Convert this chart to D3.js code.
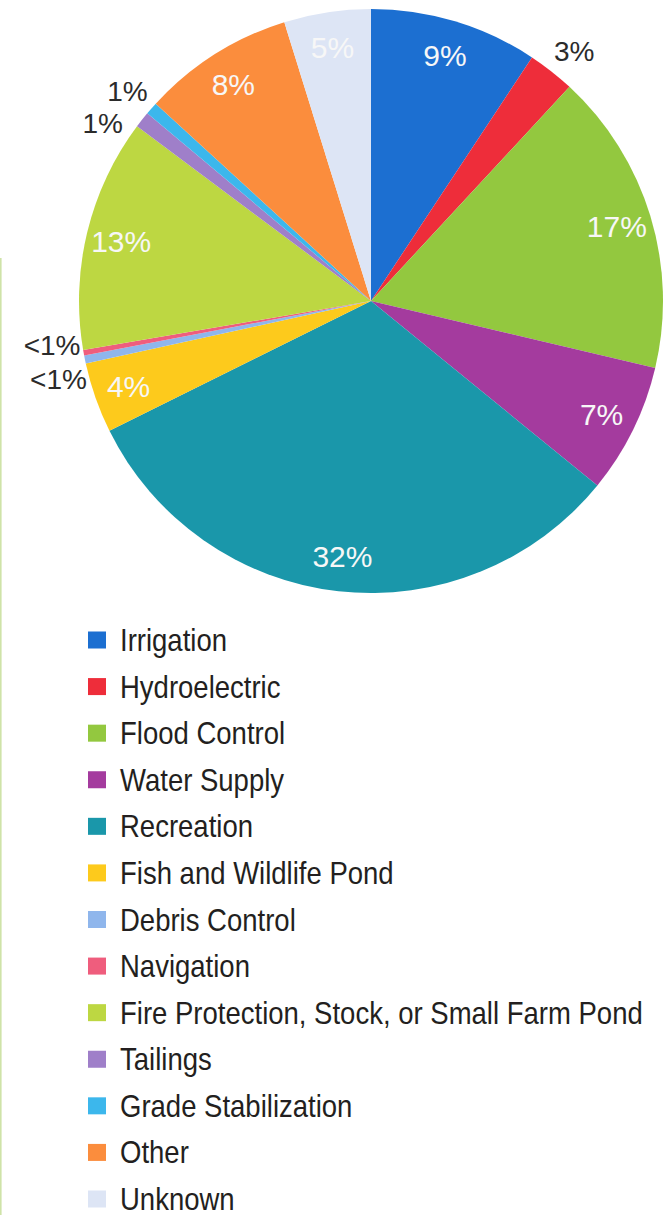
<!DOCTYPE html>
<html>
<head>
<meta charset="utf-8">
<script src="https://cdn.jsdelivr.net/npm/d3@7"></script>
<style>
  html, body { margin: 0; padding: 0; background: #ffffff; }
  svg { display: block; }
</style>
</head>
<body>
<svg id="chart" width="664" height="1215"></svg>
<script>
// ---------------- DATA ----------------
const categories = [
  "Irrigation", "Hydroelectric", "Flood Control", "Water Supply", "Recreation",
  "Fish and Wildlife Pond", "Debris Control", "Navigation",
  "Fire Protection, Stock, or Small Farm Pond", "Tailings",
  "Grade Stabilization", "Other", "Unknown"
];
const values = [9.3, 2.6, 16.8, 7.2, 31.8, 3.9, 0.45, 0.3, 12.9, 0.9, 0.7, 8.4, 4.8];
const sliceLabels = ["9%", "3%", "17%", "7%", "32%", "4%", "<1%", "<1%", "13%", "1%", "1%", "8%", "5%"];
// whether the label is drawn inside the slice (white) or outside (dark)
const labelInside = [true, false, true, true, true, true, false, false, true, false, false, true, true];

// ---------------- STYLE / LAYOUT ----------------
const colors = [
  "#1c6fd1", "#ee2d3a", "#93c83f", "#a43b9e", "#1a97aa",
  "#fdca1c", "#8fb6ec", "#ef5d7d", "#bdd742", "#9f7fc9",
  "#3cb7ec", "#fb8d3d", "#dde5f5"
];
// small angular nudges (degrees) for outside labels to avoid overlap
const outerNudgeDeg = { "Hydroelectric": 1.0, "Tailings": -4.8, "Grade Stabilization": -0.4,
                        "Debris Control": -2.4, "Navigation": 2.3 };

const W = 664, H = 1215;
const cx = 371, cy = 301, R = 292;
const innerLabelR = 257, outerLabelR = 322;

const svg = d3.select("#chart");

// thin green rule at the left edge
svg.append("line")
  .attr("x1", 0.8).attr("x2", 0.8).attr("y1", 258).attr("y2", H)
  .attr("stroke", "#cfe3a8").attr("stroke-width", 1.6);

const data = categories.map((c, i) => ({ name: c, value: values[i], label: sliceLabels[i],
  inside: labelInside[i], color: colors[i] }));

const pie = d3.pie().value(d => d.value).sort(null);
const arcs = pie(data);
const arc = d3.arc().innerRadius(0).outerRadius(R);
const inArc = d3.arc().innerRadius(innerLabelR).outerRadius(innerLabelR);

const g = svg.append("g").attr("transform", `translate(${cx},${cy})`);

g.selectAll("path.slice")
  .data(arcs)
  .join("path")
  .attr("class", "slice")
  .attr("d", arc)
  .attr("fill", d => d.data.color);

const labelFont = "'Liberation Sans', Arial, 'DejaVu Sans', sans-serif";
const legendFont = "'Liberation Sans Narrow', 'Liberation Sans', Arial, sans-serif";

g.selectAll("text.lbl")
  .data(arcs)
  .join("text")
  .attr("class", "lbl")
  .attr("transform", d => {
    if (d.data.inside) {
      const [x, y] = inArc.centroid(d);
      return `translate(${x},${y})`;
    }
    const mid = (d.startAngle + d.endAngle) / 2 + (outerNudgeDeg[d.data.name] || 0) * Math.PI / 180;
    const x = outerLabelR * Math.sin(mid), y = -outerLabelR * Math.cos(mid);
    return `translate(${x},${y})`;
  })
  .attr("text-anchor", "middle")
  .attr("dy", "0.36em")
  .attr("font-family", labelFont)
  .attr("font-size", d => d.data.inside ? 30 : 28)
  .attr("fill", d => d.data.inside ? "#f7f7f7" : "#2b2b2b")
  .text(d => d.data.label);

// ---------------- LEGEND ----------------
const legendY = d3.scalePoint().domain(categories).range([640, 1199]);
const legend = svg.append("g");
const rows = legend.selectAll("g.row").data(data).join("g")
  .attr("class", "row")
  .attr("transform", d => `translate(0,${legendY(d.name)})`);

rows.append("rect")
  .attr("x", 88).attr("y", -8.5).attr("width", 18).attr("height", 17)
  .attr("fill", d => d.color);

const texts = rows.append("text")
  .attr("x", 0).attr("y", 0)
  .attr("font-family", legendFont)
  .attr("font-size", 32)
  .attr("fill", "#231f20")
  .text(d => d.name);

// fit legend text horizontally to the condensed face of the original
let maxLen = 0;
texts.each(function() { maxLen = Math.max(maxLen, this.getComputedTextLength()); });
const sx = maxLen > 0 ? 523 / maxLen : 1;
texts.attr("transform", `translate(120,11) scale(${sx},1)`);
</script>
</body>
</html>
